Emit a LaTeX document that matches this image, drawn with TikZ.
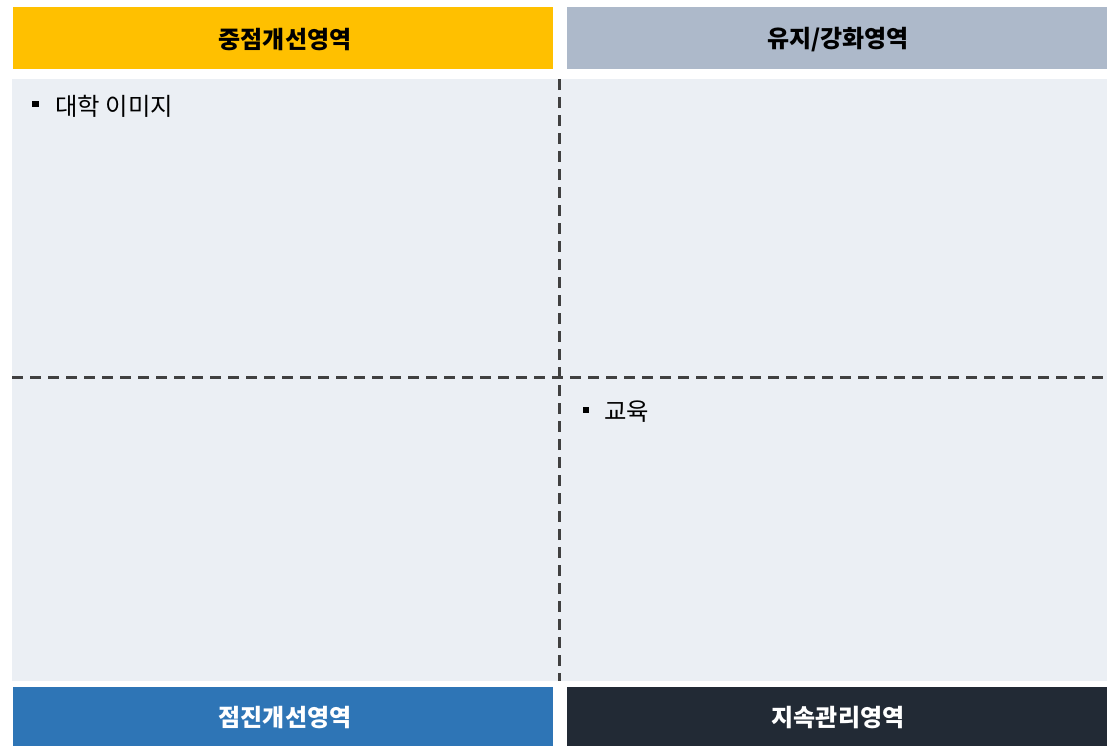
\documentclass[tikz,border=0pt]{standalone}
\usepackage{fontspec}
\newfontfamily\kr{Noto Sans CJK KR}
\definecolor{hyellow}{HTML}{FFC000}
\definecolor{hgray}{HTML}{ADB9CA}
\definecolor{hblue}{HTML}{2E75B6}
\definecolor{hdark}{HTML}{222A35}
\definecolor{panel}{HTML}{EBEFF4}
\definecolor{dashc}{HTML}{404040}
\begin{document}
\begin{tikzpicture}[x=0.75pt,y=-0.75pt,
  header/.style={draw=none,inner sep=0pt,font=\kr\bfseries\fontsize{18}{21}\selectfont},
  divider/.style={draw=dashc,line width=1.8pt,dash pattern=on 8pt off 5.5pt},
  bulletsq/.style={fill=black,inner sep=0pt,minimum size=5pt},
  item/.style={font=\kr\fontsize{18.3}{21}\selectfont,anchor=west,inner sep=0pt}]
\useasboundingbox (0,0) rectangle (1109,746);
\fill[white] (0,0) rectangle (1109,746);
\fill[panel] (12,79) rectangle (1107,681);
\path[fill=hyellow] (13,7) rectangle (553,69);
\path[fill=hgray] (567,7) rectangle (1107,69);
\path[fill=hblue] (13,687) rectangle (553,746);
\path[fill=hdark] (567,687) rectangle (1107,746);
\node[header,text=black] (h1) at (285,40) {중점개선영역};
\node[header,text=black] (h2) at (838,40) {유지/강화영역};
\node[header,text=white] (h3) at (285,718) {점진개선영역};
\node[header,text=white] (h4) at (838,718) {지속관리영역};
\coordinate (vt) at (559.5,79);
\coordinate (vb) at (559.5,681);
\coordinate (hl) at (12,377.5);
\coordinate (hr) at (1107,377.5);
\draw[divider] (vt) -- (vb);
\draw[divider] (hl) -- (hr);
\node[bulletsq] (b1) at (35.5,104) {};
\node[item] (t1) at (55,106) {대학 이미지};
\node[bulletsq] (b2) at (586,410) {};
\node[item] (t2) at (604,412) {교육};
\end{tikzpicture}
\end{document}
